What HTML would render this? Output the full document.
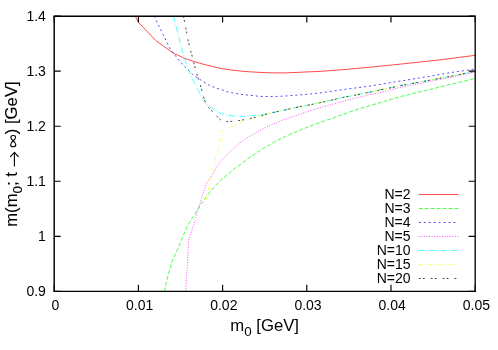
<!DOCTYPE html>
<html><head><meta charset="utf-8"><title>plot</title>
<style>html,body{margin:0;padding:0;background:#fff}svg{display:block;will-change:transform;-webkit-font-smoothing:antialiased}text{font-family:"Liberation Sans",sans-serif;font-size:14.0px;fill:#000}</style></head><body>
<svg width="498" height="350" viewBox="0 0 498 350">
<rect x="0" y="0" width="498" height="350" fill="#fff"/>
<clipPath id="c"><rect x="54.2" y="16.1" width="421.3" height="275.55"/></clipPath>
<g fill="none" stroke-linecap="butt" stroke-linejoin="round" stroke-opacity="0.7" clip-path="url(#c)">
<path d="M135.0,16.0 L138.5,22.4 L156.1,40.8 L165.0,47.2 L173.0,53.0 L184.1,58.1 L193.1,61.3 L205.2,64.7 L215.0,67.1 L220.0,68.3 L230.3,69.9 L245.0,71.5 L260.0,72.4 L270.0,72.8 L285.0,72.9 L295.0,72.5 L305.0,72.0 L320.0,71.4 L345.0,69.5 L370.0,67.2 L395.0,64.7 L420.0,62.0 L440.0,59.9 L475.2,55.3" stroke="#ff0000" stroke-width="1.0"/>
<path d="M164.5,291.4 L166.1,283.2 L169.2,271.2 L172.2,261.1 L177.2,250.1 L182.6,237.2 L187.8,225.3 L192.1,218.4 L200.1,205.6 L210.2,191.6 L220.2,180.6 L234.3,168.7 L240.2,164.6 L250.3,157.0 L260.3,150.3 L270.4,144.2 L280.0,138.9 L290.0,134.3 L310.0,126.1 L330.0,119.0 L355.0,110.1 L380.0,102.7 L400.0,96.7 L425.0,90.6 L450.0,84.5 L475.2,78.5" stroke="#00ff00" stroke-width="1.0" stroke-dasharray="3.96 1.98"/>
<path d="M154.1,16.0 L170.2,49.2 L179.0,60.3 L186.2,68.3 L192.5,74.3 L197.7,78.1 L201.1,80.2 L208.2,84.7 L214.1,87.3 L220.2,89.4 L228.2,92.0 L240.3,94.3 L260.0,96.4 L272.0,96.6 L284.1,96.1 L295.0,95.3 L308.2,94.2 L320.0,92.9 L345.0,89.3 L370.0,86.1 L395.0,81.9 L400.0,81.1 L425.0,77.1 L450.0,72.7 L475.2,69.0" stroke="#0000ff" stroke-width="1.0" stroke-dasharray="1.98 2.97"/>
<path d="M185.6,291.4 L186.6,275.2 L187.4,265.2 L188.0,254.1 L188.3,246.1 L188.6,241.8 L189.3,238.1 L190.6,234.1 L192.1,229.5 L193.7,224.5 L195.2,220.0 L197.1,212.6 L198.6,208.1 L200.1,203.1 L201.6,198.1 L203.6,191.5 L205.6,186.0 L207.1,182.6 L210.1,178.1 L212.6,174.1 L214.6,171.1 L216.6,166.8 L219.2,163.2 L221.7,160.1 L224.2,157.5 L227.2,154.5 L230.2,151.6 L234.6,147.6 L240.2,142.7 L245.7,138.9 L250.3,135.9 L260.3,130.2 L270.4,125.1 L284.1,119.5 L295.0,116.0 L308.2,111.3 L320.0,107.7 L332.3,104.2 L345.0,100.8 L356.4,97.9 L370.0,94.7 L380.0,92.7 L390.0,90.0 L400.0,87.4 L425.0,82.4 L450.0,77.6 L475.2,72.1" stroke="#ff00ff" stroke-width="1.0" stroke-dasharray="0.99 1.58"/>
<path d="M173.6,16.0 L177.5,32.0 L181.0,46.0 L184.3,57.0 L187.6,67.5 L190.5,74.8 L193.0,80.0 L198.1,90.1 L203.1,98.9 L206.6,103.6 L211.1,107.6 L215.5,110.6 L220.1,113.0 L227.1,115.1 L235.2,116.2 L245.0,116.4 L250.4,116.1 L260.3,114.9 L270.0,113.1 L285.0,110.0 L295.0,107.6 L310.0,104.8 L320.0,102.7 L330.0,100.5 L345.0,97.0 L355.0,95.2 L370.0,92.1 L380.0,89.9 L395.0,86.9 L400.0,85.7 L425.0,81.1 L450.0,76.4 L475.2,71.3" stroke="#00ffff" stroke-width="1.0" stroke-dasharray="5.94 1.98 0.99 1.98"/>
<path d="M206.1,199.6 L208.2,190.1 L209.6,184.1 L210.6,179.1 L211.9,174.1 L213.1,169.1 L214.1,164.6 L215.3,160.0 L216.6,154.5 L217.9,150.0 L219.6,144.1 L220.6,139.6 L221.6,135.1 L222.3,131.7 L227.6,128.7 L232.1,126.3 L236.6,124.0 L241.2,121.9 L245.7,120.3 L250.0,119.1 L260.3,116.0 L270.0,113.1 L285.0,110.0 L295.0,107.6 L310.0,104.8 L320.0,102.7 L330.0,100.5 L345.0,97.0 L355.0,95.2 L370.0,92.1 L380.0,89.9 L395.0,86.9 L400.0,85.7 L425.0,81.1 L450.0,76.4 L475.2,71.3" stroke="#ffff00" stroke-width="1.0" stroke-dasharray="2.97 2.97 0.99 2.97"/>
<path d="M183.3,16.0 L185.6,26.6 L187.6,38.1 L190.1,49.0 L191.6,54.0 L193.4,61.1 L196.3,72.1 L197.6,76.5 L200.1,84.1 L203.3,95.6 L204.5,100.0 L207.3,106.0 L210.5,109.6 L215.6,114.6 L219.1,118.6 L222.4,121.3 L224.5,121.7 L229.6,121.5 L236.7,120.9 L241.2,120.2 L250.4,118.5 L260.3,116.2 L270.0,113.1 L285.0,110.0 L295.0,107.6 L310.0,104.8 L320.0,102.7 L330.0,100.5 L345.0,97.0 L355.0,95.2 L370.0,92.1 L380.0,89.9 L395.0,86.9 L400.0,85.7 L425.0,81.1 L450.0,76.4 L475.2,71.3" stroke="#000000" stroke-width="1.0" stroke-dasharray="1.98 1.98 1.98 5.94"/>
</g>
<g fill="none" stroke-linecap="butt" stroke-opacity="0.7">
<path d="M418.8,194.5 L458.4,194.5" stroke="#ff0000" stroke-width="1.0"/>
<path d="M418.8,208.5 L458.4,208.5" stroke="#00ff00" stroke-width="1.0" stroke-dasharray="3.96 1.98"/>
<path d="M418.8,222.5 L458.4,222.5" stroke="#0000ff" stroke-width="1.0" stroke-dasharray="1.98 2.97"/>
<path d="M418.8,236.5 L458.4,236.5" stroke="#ff00ff" stroke-width="1.0" stroke-dasharray="0.99 1.58"/>
<path d="M418.8,250.5 L458.4,250.5" stroke="#00ffff" stroke-width="1.0" stroke-dasharray="5.94 1.98 0.99 1.98"/>
<path d="M418.8,264.5 L458.4,264.5" stroke="#ffff00" stroke-width="1.0" stroke-dasharray="2.97 2.97 0.99 2.97"/>
<path d="M418.8,278.5 L458.4,278.5" stroke="#000000" stroke-width="1.0" stroke-dasharray="1.98 1.98 1.98 5.94"/>
</g>
<text x="410.5" y="198.9" text-anchor="end">N=2</text>
<text x="410.5" y="212.9" text-anchor="end">N=3</text>
<text x="410.5" y="226.9" text-anchor="end">N=4</text>
<text x="410.5" y="240.9" text-anchor="end">N=5</text>
<text x="410.5" y="254.9" text-anchor="end">N=10</text>
<text x="410.5" y="268.9" text-anchor="end">N=15</text>
<text x="410.5" y="282.9" text-anchor="end">N=20</text>
<path d="M54.20,291.35 V284.85 M54.20,16.1 V22.6 M54.2,291.35 H60.7 M475.2,291.35 H468.7 M138.40,291.35 V284.85 M138.40,16.1 V22.6 M54.2,236.30 H60.7 M475.2,236.30 H468.7 M222.60,291.35 V284.85 M222.60,16.1 V22.6 M54.2,181.25 H60.7 M475.2,181.25 H468.7 M306.80,291.35 V284.85 M306.80,16.1 V22.6 M54.2,126.20 H60.7 M475.2,126.20 H468.7 M391.00,291.35 V284.85 M391.00,16.1 V22.6 M54.2,71.15 H60.7 M475.2,71.15 H468.7 M475.20,291.35 V284.85 M475.20,16.1 V22.6 M54.2,16.10 H60.7 M475.2,16.10 H468.7" stroke="#000" stroke-width="1.15" fill="none"/>
<path d="M53.45,16.200000000000003 H475.95" stroke="#000" stroke-width="1.35" fill="none"/>
<path d="M53.45,291.35 H475.95" stroke="#000" stroke-width="1.4" fill="none"/>
<path d="M54.2,16.1 V291.35" stroke="#0a0a0a" stroke-width="1.5" fill="none"/>
<path d="M475.2,16.1 V291.35" stroke="#141414" stroke-width="1.45" fill="none"/>
<text x="45.9" y="296.2" text-anchor="end">0.9</text>
<text x="45.9" y="241.2" text-anchor="end">1</text>
<text x="45.9" y="186.2" text-anchor="end">1.1</text>
<text x="45.9" y="131.1" text-anchor="end">1.2</text>
<text x="45.9" y="76.1" text-anchor="end">1.3</text>
<text x="45.9" y="21.0" text-anchor="end">1.4</text>
<text x="55.4" y="310.2" text-anchor="middle">0</text>
<text x="139.6" y="310.2" text-anchor="middle">0.01</text>
<text x="223.8" y="310.2" text-anchor="middle">0.02</text>
<text x="308.0" y="310.2" text-anchor="middle">0.03</text>
<text x="392.2" y="310.2" text-anchor="middle">0.04</text>
<text x="476.4" y="310.2" text-anchor="middle">0.05</text>
<text x="230.3" y="330.5" style="font-size:16.7px">m<tspan style="font-size:13.4px" dy="5.0">0</tspan><tspan dy="-5.0"> [GeV]</tspan></text>
<text transform="translate(16.5,226.8) rotate(-90)" style="font-size:16.7px;stroke:#000;stroke-width:0.12px">m(m<tspan style="font-size:13.4px" dy="5.0">0</tspan><tspan dy="-5.0">; t </tspan><tspan style="fill:none;stroke:none">→ ∞</tspan>) [GeV]</text>
<g fill="none" stroke="#000" stroke-width="1.1" stroke-linecap="round" stroke-linejoin="round">
<path d="M14.4,166 V152.6 M10.5,156.7 L14.4,152.4 L18.3,156.7"/>
<path d="M13.2,140.7 C16.4,138.3 16.3,135.5 13.2,135.5 C10.1,135.5 10,138.3 13.2,140.7 C16.7,143.4 16.6,146.8 13.2,146.8 C9.8,146.8 9.7,143.4 13.2,140.7 Z"/>
</g>
</svg></body></html>
